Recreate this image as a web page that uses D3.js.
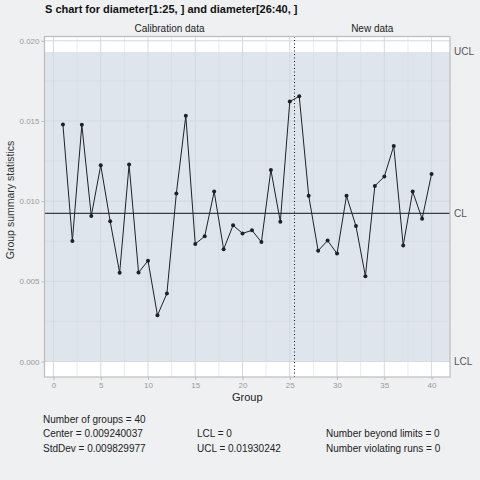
<!DOCTYPE html>
<html>
<head>
<meta charset="utf-8">
<script src="https://cdn.jsdelivr.net/npm/d3@7"></script>
<style>
  html, body { margin: 0; padding: 0; background: #eff0f2; }
  svg { display: block; font-family: "Liberation Sans", Arial, sans-serif; }
</style>
</head>
<body>
<svg id="chart" width="480" height="480"></svg>
<script>
// S chart values, one per group
const groups = d3.range(1, 41);
const stats = [
  0.01478, 0.00752, 0.01476, 0.00907, 0.01224, 0.00874, 0.00553, 0.01228, 0.00555, 0.00629,
  0.00288, 0.00424, 0.01048, 0.01532, 0.00733, 0.00781, 0.01060, 0.00700, 0.00849, 0.00799,
  0.00818, 0.00745, 0.01195, 0.00872, 0.01621, 0.01654, 0.01034, 0.00691, 0.00754, 0.00673,
  0.01033, 0.00845, 0.00532, 0.01095, 0.01153, 0.01344, 0.00723, 0.01060, 0.00890, 0.01170
];
const center = 0.009240037;
const lcl = 0;
const ucl = 0.01930242;
const calib_end = 25;
const x_ticks = [0, 5, 10, 15, 20, 25, 30, 35, 40];
const y_ticks = [0, 0.005, 0.010, 0.015, 0.020];
const limit_labels = ['UCL', 'CL', 'LCL'];
const summary_lines = [
  ['Number of groups = 40', '', ''],
  ['Center = 0.009240037', 'LCL = 0', 'Number beyond limits = 0'],
  ['StdDev = 0.009829977', 'UCL = 0.01930242', 'Number violating runs = 0']
];

const svg = d3.select('#chart');
const p_left = 44.5, p_right = 450, p_top = 36.5, p_bottom = 377;

let x = d3.scaleLinear().domain([-0.95, 41.95]).range([p_left, p_right]);
let y = d3.scaleLinear().domain([-0.000965, 0.020267]).range([p_bottom, p_top]);

// panel, white outside the control limits
svg.append('rect').attr('x', p_left).attr('y', p_top).attr('width', p_right - p_left).attr('height', p_bottom - p_top)
    .attr('fill', '#ffffff');
svg.append('rect').attr('x', p_left).attr('y', y(ucl)).attr('width', p_right - p_left).attr('height', y(lcl) - y(ucl))
    .attr('fill', '#dfe5ed');

// grid, minor first
let grid = svg.append('g').attr('stroke', '#d3d9e1').attr('fill', 'none');
x_ticks.slice(0, -1).forEach(t => {
    grid.append('line').attr('x1', x(t + 2.5)).attr('x2', x(t + 2.5)).attr('y1', p_top).attr('y2', p_bottom)
        .attr('stroke-width', 0.5);
});
y_ticks.slice(0, -1).forEach(t => {
    grid.append('line').attr('y1', y(t + 0.0025)).attr('y2', y(t + 0.0025)).attr('x1', p_left).attr('x2', p_right)
        .attr('stroke-width', 0.5);
});
x_ticks.forEach(t => {
    grid.append('line').attr('x1', x(t)).attr('x2', x(t)).attr('y1', p_top).attr('y2', p_bottom).attr('stroke-width', 1);
});
y_ticks.forEach(t => {
    grid.append('line').attr('y1', y(t)).attr('y2', y(t)).attr('x1', p_left).attr('x2', p_right).attr('stroke-width', 1);
});

// center line
svg.append('line').attr('x1', p_left).attr('x2', p_right).attr('y1', y(center)).attr('y2', y(center))
    .attr('stroke', '#3a3f47').attr('stroke-width', 1.2);

// separator between calibration and new data
svg.append('line').attr('x1', x(calib_end + 0.5)).attr('x2', x(calib_end + 0.5)).attr('y1', p_top).attr('y2', p_bottom)
    .attr('stroke', '#111').attr('stroke-width', 1).attr('stroke-dasharray', '1,2.5');

// series
let line = d3.line().x((d, i) => x(groups[i])).y(d => y(d));
svg.append('path').datum(stats).attr('d', line).attr('fill', 'none').attr('stroke', '#1e2227').attr('stroke-width', 1);
svg.append('g').selectAll('circle').data(stats).join('circle')
    .attr('cx', (d, i) => x(groups[i])).attr('cy', d => y(d)).attr('r', 2).attr('fill', '#1e2227');

// panel border
svg.append('rect').attr('x', p_left).attr('y', p_top).attr('width', p_right - p_left).attr('height', p_bottom - p_top)
    .attr('fill', 'none').attr('stroke', '#bcbcbc').attr('stroke-width', 1.2);

// axes
let x_axis = svg.append('g').attr('transform', 'translate(0,' + p_bottom + ')')
    .call(d3.axisBottom(x).tickValues(x_ticks).tickSize(3).tickPadding(2));
let y_axis = svg.append('g').attr('transform', 'translate(' + p_left + ',0)')
    .call(d3.axisLeft(y).tickValues(y_ticks).tickSize(3).tickPadding(2).tickFormat(d3.format('.3f')));
[x_axis, y_axis].forEach(a => {
    a.select('.domain').remove();
    a.selectAll('line').attr('stroke', '#bcbcbc');
    a.selectAll('text').attr('fill', '#9a9a9a').style('font-size', '8px');
});

// limit labels on the right
[ucl, center, lcl].forEach((v, i) => {
    svg.append('text').attr('x', p_right + 4).attr('y', y(v)).attr('dy', '0.35em')
        .attr('fill', '#555').style('font-size', '10px').text(limit_labels[i]);
});

// titles
svg.append('text').attr('x', 45).attr('y', 13).attr('fill', '#111').style('font-size', '11px')
    .style('font-weight', 'bold').text('S chart for diameter[1:25, ] and diameter[26:40, ]');
svg.append('text').attr('x', (p_left + x(calib_end + 0.5)) / 2).attr('y', 32).attr('text-anchor', 'middle')
    .attr('fill', '#222').style('font-size', '10px').text('Calibration data');
svg.append('text').attr('x', (x(calib_end + 0.5) + p_right) / 2).attr('y', 32).attr('text-anchor', 'middle')
    .attr('fill', '#222').style('font-size', '10px').text('New data');
svg.append('text').attr('x', (p_left + p_right) / 2).attr('y', 401).attr('text-anchor', 'middle')
    .attr('fill', '#222').style('font-size', '11px').text('Group');
svg.append('text').attr('transform', 'translate(13.5,200) rotate(-90)')
    .attr('text-anchor', 'middle').attr('fill', '#333').style('font-size', '10.5px').text('Group summary statistics');

// summary
let col_x = [43, 197, 326];
summary_lines.forEach((row, r) => {
    row.forEach((txt, c) => {
        if (txt === '') return;
        svg.append('text').attr('x', col_x[c]).attr('y', 422.5 + r * 14.5)
            .attr('fill', '#222').style('font-size', '10px').text(txt);
    });
});
</script>
</body>
</html>
